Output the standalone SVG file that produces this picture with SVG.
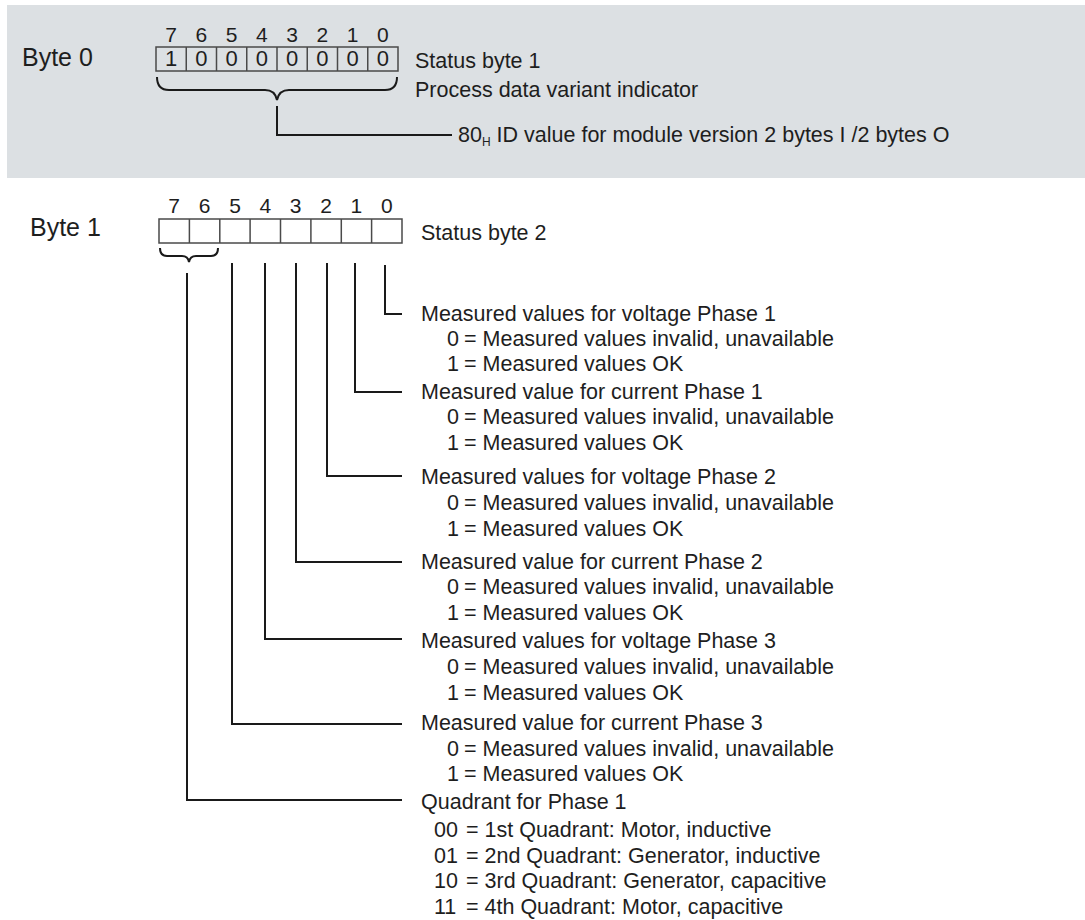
<svg xmlns="http://www.w3.org/2000/svg" width="1085" height="920" viewBox="0 0 1085 920">
<style>
text { font-family: "Liberation Sans", Arial, sans-serif; fill: #1e1e1e; }
.lbl { font-size: 25px; }
.num { font-size: 21px; text-anchor: middle; }
.dig { font-size: 22px; text-anchor: middle; }
.cell { fill: none; stroke: #4a4a4a; stroke-width: 1.5; }
.txt { font-size: 21.5px; }
.conn { fill: none; stroke: #1a1a1a; stroke-width: 2; }
</style>
<rect id="band" x="7" y="5" width="1078" height="173" fill="#dce0e3"/>

<g id="byte0">
  <text class="lbl" x="22" y="66">Byte 0</text>
  <g class="num-row">
    <text class="num" x="171.1" y="42">7</text>
    <text class="num" x="201.4" y="42">6</text>
    <text class="num" x="231.6" y="42">5</text>
    <text class="num" x="261.9" y="42">4</text>
    <text class="num" x="292.1" y="42">3</text>
    <text class="num" x="322.4" y="42">2</text>
    <text class="num" x="352.6" y="42">1</text>
    <text class="num" x="382.9" y="42">0</text>
  </g>
  <rect class="cell" x="156" y="47" width="242" height="24"/>
  <path class="cell" d="M186.25,47V71M216.5,47V71M246.75,47V71M277,47V71M307.25,47V71M337.5,47V71M367.75,47V71"/>
  <text class="dig" x="171.1" y="66">1</text>
  <text class="dig" x="201.4" y="66">0</text>
  <text class="dig" x="231.6" y="66">0</text>
  <text class="dig" x="261.9" y="66">0</text>
  <text class="dig" x="292.1" y="66">0</text>
  <text class="dig" x="322.4" y="66">0</text>
  <text class="dig" x="352.6" y="66">0</text>
  <text class="dig" x="382.9" y="66">0</text>
  <text class="txt" x="415" y="68">Status byte 1</text>
  <text class="txt" x="415" y="97">Process data variant indicator</text>
</g>

<g id="id-value">
  <text class="txt" x="458" y="142">80<tspan font-size="12" dy="4">H</tspan><tspan dy="-4"> ID value for module version 2 bytes I /2 bytes O</tspan></text>
</g>

<g id="byte1">
  <text class="lbl" x="30" y="236">Byte 1</text>
  <text class="num" x="174.2" y="213">7</text>
  <text class="num" x="204.6" y="213">6</text>
  <text class="num" x="235" y="213">5</text>
  <text class="num" x="265.3" y="213">4</text>
  <text class="num" x="295.7" y="213">3</text>
  <text class="num" x="326.1" y="213">2</text>
  <text class="num" x="356.4" y="213">1</text>
  <text class="num" x="386.8" y="213">0</text>
  <rect class="cell" x="159" y="219" width="243" height="24"/>
  <path class="cell" d="M189.4,219V243M219.8,219V243M250.1,219V243M280.5,219V243M310.9,219V243M341.3,219V243M371.6,219V243"/>
  <text class="txt" x="421" y="240">Status byte 2</text>
</g>

<g id="connectors">
  <path class="conn" d="M157,77 Q157,90 169,90 H265 Q275,90 277,100 Q279,90 289,90 H385 Q397,90 397,77"/>
  <path class="conn" d="M277,106 V135 H452"/>
  <path class="conn" d="M160,248 Q160,256 167,256 H182 Q188,256 189,262 Q190,256 196,256 H211 Q218,256 218,248"/>
  <path class="conn" d="M385,265 V314 H402"/>
  <path class="conn" d="M355,263 V392 H402"/>
  <path class="conn" d="M327,263 V476 H402"/>
  <path class="conn" d="M296,263 V562 H402"/>
  <path class="conn" d="M265,263 V639 H402"/>
  <path class="conn" d="M232,263 V724 H402"/>
  <path class="conn" d="M187,273 V800 H402"/>
</g>

<g id="bit0">
  <text class="txt" x="421" y="321">Measured values for voltage Phase 1</text>
  <text class="txt" y="346"><tspan x="447">0</tspan><tspan x="464">= Measured values invalid, unavailable</tspan></text>
  <text class="txt" y="371"><tspan x="447">1</tspan><tspan x="464">= Measured values OK</tspan></text>
</g>
<g id="bit1">
  <text class="txt" x="421" y="399">Measured value for current Phase 1</text>
  <text class="txt" y="424"><tspan x="447">0</tspan><tspan x="464">= Measured values invalid, unavailable</tspan></text>
  <text class="txt" y="450"><tspan x="447">1</tspan><tspan x="464">= Measured values OK</tspan></text>
</g>
<g id="bit2">
  <text class="txt" x="421" y="484">Measured values for voltage Phase 2</text>
  <text class="txt" y="510"><tspan x="447">0</tspan><tspan x="464">= Measured values invalid, unavailable</tspan></text>
  <text class="txt" y="536"><tspan x="447">1</tspan><tspan x="464">= Measured values OK</tspan></text>
</g>
<g id="bit3">
  <text class="txt" x="421" y="569">Measured value for current Phase 2</text>
  <text class="txt" y="594"><tspan x="447">0</tspan><tspan x="464">= Measured values invalid, unavailable</tspan></text>
  <text class="txt" y="620"><tspan x="447">1</tspan><tspan x="464">= Measured values OK</tspan></text>
</g>
<g id="bit4">
  <text class="txt" x="421" y="648">Measured values for voltage Phase 3</text>
  <text class="txt" y="674"><tspan x="447">0</tspan><tspan x="464">= Measured values invalid, unavailable</tspan></text>
  <text class="txt" y="700"><tspan x="447">1</tspan><tspan x="464">= Measured values OK</tspan></text>
</g>
<g id="bit5">
  <text class="txt" x="421" y="730">Measured value for current Phase 3</text>
  <text class="txt" y="756"><tspan x="447">0</tspan><tspan x="464">= Measured values invalid, unavailable</tspan></text>
  <text class="txt" y="781"><tspan x="447">1</tspan><tspan x="464">= Measured values OK</tspan></text>
</g>
<g id="bit76">
  <text class="txt" x="421" y="809">Quadrant for Phase 1</text>
  <text class="txt" y="837"><tspan x="434">00</tspan><tspan x="466">= 1st Quadrant: Motor, inductive</tspan></text>
  <text class="txt" y="863"><tspan x="434">01</tspan><tspan x="466">= 2nd Quadrant: Generator, inductive</tspan></text>
  <text class="txt" y="888"><tspan x="434">10</tspan><tspan x="466">= 3rd Quadrant: Generator, capacitive</tspan></text>
  <text class="txt" y="914"><tspan x="434">11</tspan><tspan x="466">= 4th Quadrant: Motor, capacitive</tspan></text>
</g>
</svg>
